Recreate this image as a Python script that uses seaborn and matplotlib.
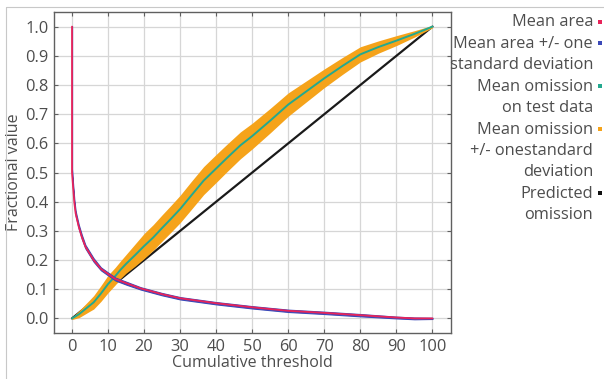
import numpy as np
import pandas as pd
import seaborn as sns
import matplotlib
matplotlib.use("Agg")
import matplotlib.pyplot as plt
from matplotlib.lines import Line2D
from matplotlib.patches import Rectangle

# ---------------- data ----------------
area_x = [0, 0, 0.3, 0.65, 1.0, 1.85, 2.7, 3.7, 6, 8, 9.7, 12, 15.2, 19, 25, 30,
          40, 50, 60, 70, 80, 90, 95, 100]
area_y = [1.0, 0.5, 0.45, 0.396, 0.36, 0.315, 0.28, 0.246, 0.2, 0.17, 0.155, 0.135,
          0.12, 0.103, 0.083, 0.069, 0.052, 0.038, 0.026, 0.019, 0.011, 0.003, 0.0, 0.0]
area_sd = [0.0, 0.01, 0.008, 0.007, 0.006, 0.005, 0.005, 0.004, 0.004, 0.003, 0.003, 0.003,
           0.003, 0.002, 0.002, 0.002, 0.002, 0.002, 0.002, 0.002, 0.002, 0.001, 0.001, 0.0]

om_x = [0, 2, 5, 6, 8, 10, 12, 13.4, 15, 17.5, 20, 22.5, 25, 27.5, 30, 33, 36.5, 40,
        43, 46.7, 50, 55, 60, 65, 70, 75, 80, 85, 90, 95, 100]
om_y = [0.0, 0.015, 0.045, 0.055, 0.085, 0.118, 0.145, 0.166, 0.187, 0.217, 0.248,
        0.277, 0.31, 0.342, 0.375, 0.42, 0.472, 0.514, 0.55, 0.593, 0.625, 0.678,
        0.733, 0.778, 0.823, 0.865, 0.905, 0.93, 0.952, 0.975, 1.0]
om_sd = [0.004, 0.012, 0.02, 0.023, 0.027, 0.03, 0.03, 0.03, 0.032, 0.038, 0.043,
         0.044, 0.045, 0.046, 0.047, 0.048, 0.048, 0.048, 0.047, 0.046, 0.044, 0.042,
         0.04, 0.036, 0.032, 0.029, 0.026, 0.021, 0.017, 0.011, 0.004]

pred_x = [0, 100]
pred_y = [0.0, 1.0]

xticks = [0, 10, 20, 30, 40, 50, 60, 70, 80, 90, 100]
yticks = [0.0, 0.1, 0.2, 0.3, 0.4, 0.5, 0.6, 0.7, 0.8, 0.9, 1.0]

legend_labels = ["Mean area", "Mean area +/- one\nstandard deviation",
                 "Mean omission\non test data",
                 "Mean omission\n+/- onestandard\ndeviation",
                 "Predicted\nomission"]

# ---------------- style ----------------
sns.set_theme(style="whitegrid")
plt.rcParams["font.family"] = ["Open Sans", "DejaVu Sans"]
TXT = "#4d4d4d"
RED = "#e8235a"
BLUE = "#3b49b8"
TEAL = "#23a98f"
ORANGE = "#f5a31a"

fig = plt.figure(figsize=(6.04, 3.79), dpi=100)
ax = fig.add_axes([0.0894, 0.1214, 0.6565, 0.8469])

area = pd.DataFrame({"x": area_x, "y": area_y, "sd": area_sd})
om = pd.DataFrame({"x": om_x, "y": om_y, "sd": om_sd})
pred = pd.DataFrame({"x": pred_x, "y": pred_y})

sns.lineplot(data=pred, x="x", y="y", color="#1a1a1a", lw=1.6, ax=ax,
             estimator=None, sort=False, zorder=2)
ax.fill_between(om["x"], om["y"] - om["sd"], om["y"] + om["sd"], color=ORANGE,
                lw=0, zorder=3)
sns.lineplot(data=om, x="x", y="y", color=TEAL, lw=1.4, ax=ax,
             estimator=None, sort=False, zorder=4)
ax.fill_between(area["x"], area["y"] - area["sd"] - 0.002, area["y"] + area["sd"] + 0.002,
                color=BLUE, lw=0.8, zorder=5)
sns.lineplot(data=area, x="x", y="y", color=RED, lw=1.3, ax=ax,
             estimator=None, sort=False, zorder=6)

ax.set_xlim(-5, 105)
ax.set_ylim(-0.05, 1.05)
ax.set_xticks(xticks)
ax.set_yticks(yticks)
ax.set_xticklabels([str(t) for t in xticks])
ax.set_yticklabels([f"{t:.1f}" for t in yticks])
ax.grid(True, color="#d6d6d6", lw=0.9)
ax.set_axisbelow(True)
for s in ax.spines.values():
    s.set_visible(True)
    s.set_color("#606060")
    s.set_linewidth(1.0)
ax.tick_params(axis="both", which="both", direction="in", length=3, width=0.8,
               color="#606060", labelsize=11.8, labelcolor=TXT, pad=4,
               top=True, right=True, left=True, bottom=True)
ax.set_xlabel("Cumulative threshold", fontsize=11.5, color=TXT, labelpad=0)
ax.set_ylabel("Fractional value", fontsize=11.5, color=TXT, labelpad=2)

# ---------------- legend (right-aligned text, marker at right) ----------------
W, H = 604.0, 379.0
line_h = 21.4
y0 = 22.5
rows = [0, 1, 3, 5, 8]
colors = [RED, BLUE, TEAL, ORANGE, "#111111"]
for lab, r, c in zip(legend_labels, rows, colors):
    ytop = y0 + r * line_h
    for k, part in enumerate(lab.split("\n")):
        fig.text(593 / W, 1 - (ytop + k * line_h) / H, part, ha="right", va="center",
                 fontsize=11.8, color=TXT)
    fig.patches.append(Rectangle((598 / W, 1 - (ytop + 1.5) / H), 4 / W, 4 / H,
                                 transform=fig.transFigure, color=c, lw=0))

# faint outer frame
fig.add_artist(Line2D([6 / W, 1], [1 - 7 / H, 1 - 7 / H], transform=fig.transFigure,
                      color="#c8c8c8", lw=0.8))
fig.add_artist(Line2D([6 / W, 6 / W], [0, 1 - 7 / H], transform=fig.transFigure,
                      color="#c8c8c8", lw=0.8))

fig.savefig("out.png", dpi=100, facecolor="white")
